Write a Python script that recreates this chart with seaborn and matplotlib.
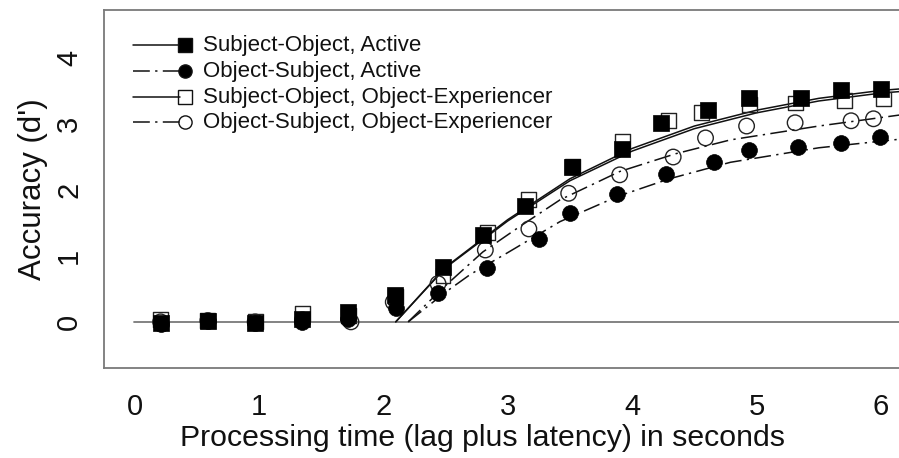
import matplotlib
matplotlib.use("Agg")
import matplotlib.pyplot as plt
import seaborn as sns
import pandas as pd
from matplotlib.lines import Line2D

# ---------------- data ----------------
labels = ["Subject-Object, Active", "Object-Subject, Active",
          "Subject-Object, Object-Experiencer", "Object-Subject, Object-Experiencer"]

so_act_x = [0.21, 0.59, 0.97, 1.35, 1.72, 2.09, 2.48, 2.80, 3.14, 3.52, 3.92, 4.23, 4.61, 4.94, 5.36, 5.68, 6.00]
so_act_y = [-0.02, 0.02, -0.01, 0.05, 0.15, 0.41, 0.83, 1.32, 1.76, 2.35, 2.62, 3.02, 3.21, 3.39, 3.39, 3.52, 3.53]

os_act_x = [0.21, 0.59, 0.97, 1.35, 1.72, 2.10, 2.44, 2.83, 3.25, 3.50, 3.88, 4.27, 4.66, 4.94, 5.33, 5.68, 5.99]
os_act_y = [-0.04, 0.01, -0.02, 0.00, 0.05, 0.21, 0.44, 0.82, 1.26, 1.65, 1.94, 2.24, 2.42, 2.61, 2.65, 2.71, 2.80]

so_oe_x = [0.21, 0.59, 0.97, 1.35, 1.72, 2.10, 2.48, 2.84, 3.17, 3.52, 3.92, 4.29, 4.56, 4.94, 5.31, 5.71, 6.02]
so_oe_y = [0.03, 0.02, 0.00, 0.12, 0.10, 0.38, 0.70, 1.36, 1.85, 2.35, 2.73, 3.05, 3.17, 3.29, 3.32, 3.36, 3.38]

os_oe_x = [0.21, 0.59, 0.97, 1.35, 1.74, 2.08, 2.44, 2.82, 3.17, 3.49, 3.90, 4.33, 4.59, 4.92, 5.31, 5.76, 5.94]
os_oe_y = [0.00, 0.02, 0.00, 0.03, 0.00, 0.30, 0.58, 1.09, 1.41, 1.95, 2.23, 2.50, 2.79, 2.97, 3.02, 3.05, 3.08]

# fitted curves
so_act_fit_x = [2.10, 2.50, 3.00, 3.50, 4.00, 4.50, 5.00, 5.50, 6.00, 6.20]
so_act_fit_y = [0.00, 0.83, 1.55, 2.17, 2.63, 2.97, 3.21, 3.39, 3.51, 3.54]
so_oe_fit_x = [2.10, 2.50, 3.00, 3.50, 4.00, 4.50, 5.00, 5.50, 6.00, 6.20]
so_oe_fit_y = [0.00, 0.82, 1.53, 2.14, 2.59, 2.93, 3.17, 3.35, 3.47, 3.50]
os_oe_fit_x = [2.20, 2.50, 2.80, 3.10, 3.42, 3.90, 4.35, 4.79, 5.50, 6.20]
os_oe_fit_y = [0.00, 0.55, 1.06, 1.45, 1.85, 2.28, 2.55, 2.76, 2.97, 3.15]
os_act_fit_x = [2.20, 2.50, 2.70, 3.00, 3.42, 3.88, 4.30, 4.79, 5.50, 6.20]
os_act_fit_y = [0.00, 0.45, 0.72, 1.05, 1.52, 1.90, 2.17, 2.42, 2.64, 2.78]

x_ticks = [0, 1, 2, 3, 4, 5, 6]
y_ticks = [0, 1, 2, 3, 4]

# ---------------- styling ----------------
sns.set_style("white")
plt.rcParams["font.family"] = ["Liberation Sans", "DejaVu Sans"]

W, H = 899, 458
fig = plt.figure(figsize=(W / 100, H / 100), dpi=100)
ax = fig.add_axes([104 / W, 1 - 368 / H, (W - 104) / W, (368 - 10) / H])

DASHDOT = (0, (11, 3.5, 1.5, 3.5))
GREY = "#7a7a7a"

# zero reference line
sns.lineplot(x=[0, 6.5], y=[0, 0], ax=ax, color=GREY, lw=1.3, zorder=1)

curves = [
    (so_act_fit_x, so_act_fit_y, "-"),
    (so_oe_fit_x, so_oe_fit_y, "-"),
    (os_act_fit_x, os_act_fit_y, DASHDOT),
    (os_oe_fit_x, os_oe_fit_y, DASHDOT),
]
for cx, cy, ls in curves:
    sns.lineplot(x=cx, y=cy, ax=ax, color="#111111", lw=1.1, ls=ls,
                 sort=False, estimator=None, zorder=2)

# open markers first, filled on top
sns.scatterplot(x=so_oe_x, y=so_oe_y, ax=ax, marker="s", s=115,
                facecolor="none", edgecolor="#222222", linewidth=1.0, zorder=3)
sns.scatterplot(x=os_oe_x, y=os_oe_y, ax=ax, marker="o", s=125,
                facecolor="none", edgecolor="#222222", linewidth=1.0, zorder=3)
sns.scatterplot(x=so_act_x, y=so_act_y, ax=ax, marker="s", s=120,
                color="black", edgecolor="black", linewidth=0.5, zorder=4)
sns.scatterplot(x=os_act_x, y=os_act_y, ax=ax, marker="o", s=130,
                color="black", edgecolor="black", linewidth=0.5, zorder=4)

ax.set_xlim(-0.245, 6.145)
ax.set_ylim(-0.70, 4.73)
ax.set_xticks(x_ticks)
ax.set_yticks(y_ticks)
ax.set_xticklabels([str(t) for t in x_ticks])
ax.set_yticklabels([str(t) for t in y_ticks], rotation=90, va="center")

for side in ["left", "bottom", "top"]:
    ax.spines[side].set_color(GREY)
    ax.spines[side].set_linewidth(1.3)
ax.spines["right"].set_visible(False)

ax.tick_params(axis="both", which="both", direction="out", length=4, width=1,
               color=GREY, labelsize=21, labelcolor="#111111")
ax.tick_params(axis="x", pad=14)
ax.tick_params(axis="y", pad=11)

ax.set_xlabel("Processing time (lag plus latency) in seconds", fontsize=21.8,
              color="#111111")
ax.xaxis.set_label_coords((483 - 104) / (W - 104), -(438 - 368) / (368 - 10))
ax.xaxis.label.set_va("center")
ax.set_ylabel("Accuracy (d')", fontsize=22.5, color="#111111", labelpad=5)

# legend drawn manually: line segment with marker at its right end
rows_y = [45, 71, 97, 122]
styles = [("-", "s", "black"), (DASHDOT, "o", "black"),
          ("-", "s", "none"), (DASHDOT, "o", "none")]
for (ls, mk, fc), lab, ry in zip(styles, labels, rows_y):
    yy = 1 - ry / H
    fig.add_artist(Line2D([133 / W, 180 / W], [yy, yy], transform=fig.transFigure,
                          color="#111111", lw=1.1, ls=ls))
    fig.add_artist(Line2D([185 / W], [yy], transform=fig.transFigure,
                          marker=mk, markersize=9.5, markerfacecolor=fc,
                          markeredgecolor="#111111", markeredgewidth=1.0, ls="none"))
    fig.text(203 / W, yy, lab, fontsize=16, va="center", ha="left", color="#111111")

fig.savefig("out.png", dpi=100)
